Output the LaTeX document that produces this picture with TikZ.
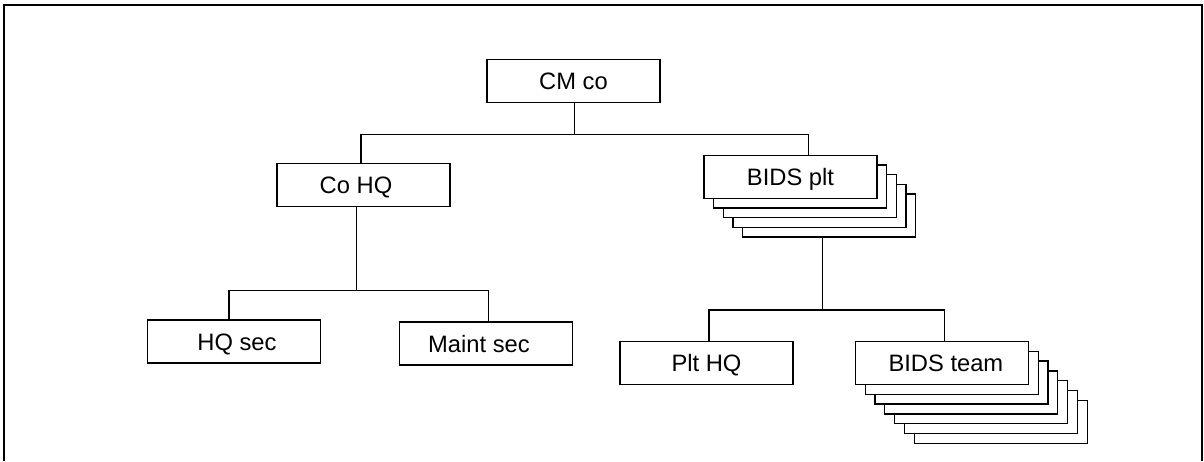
\documentclass[tikz,border=0pt]{standalone}
\usepackage{fontspec}
\setmainfont{Liberation Sans}
\begin{document}
\begin{tikzpicture}[x=0.75pt,y=-0.75pt,
  box/.style={draw,line width=1pt,fill=white,minimum width=129.75pt,minimum height=32.25pt,
    inner sep=0pt,font=\fontsize{17.8}{20}\selectfont,text height=12.75pt,text depth=0pt},
  conn/.style={line width=1pt},
  frame/.style={line width=1.7pt}]
\useasboundingbox (0,0) rectangle (1204,461);
% outer frame
\draw[frame] (4,461) -- (4,5) -- (1202.3,5) -- (1202.3,461);

% nodes
\node[box] (CMco) at (573.5,80.7) {CM co};
\node[box] (CoHQ) at (363.5,184.7) {Co HQ\hspace*{11.25pt}};
\foreach \k in {4,3,2,1}
  \node[box] (BIDSplt\k) at (790.5+9.7*\k,176.7+9.7*\k) {};
\node[box] (BIDSplt) at (790.5,176.7) {BIDS plt};
\node[box] (HQsec) at (234,341.5) {\hspace*{4.5pt}HQ sec};
\node[box] (Maintsec) at (485.9,343.5) {Maint sec\hspace*{10.35pt}};
\node[box] (PltHQ) at (706.5,362.7) {Plt HQ};
\foreach \k in {6,5,4,3,2,1}
  \node[box] (BIDSteam\k) at (941.9+9.8*\k,363+9.8*\k) {};
\node[box] (BIDSteam) at (941.9,363) {\hspace*{6pt}BIDS team};

% junction coordinates
\coordinate (b0) at (574.3,134.3);
\coordinate (b1) at (361,134.3);
\coordinate (b2) at (808.3,134.3);
\coordinate (a2) at (356.7,290.3);
\coordinate (a3) at (229,290.3);
\coordinate (a4) at (488.3,290.3);
\coordinate (c2) at (822.3,310);
\coordinate (c3) at (709,310);
\coordinate (c4) at (944.7,310);

% connectors
\draw[conn] (b0 |- CMco.south) -- (b0);
\draw[conn] (b1 |- CoHQ.north) -- (b1) -- (b2) -- (b2 |- BIDSplt.north);
\draw[conn] (a2 |- CoHQ.south) -- (a2);
\draw[conn] (a3 |- HQsec.north) -- (a3) -- (a4) -- (a4 |- Maintsec.north);
\draw[conn] (c2 |- BIDSplt4.south) -- (c2);
\draw[conn] (c3 |- PltHQ.north) -- (c3) -- (c4) -- (c4 |- BIDSteam.north);
\end{tikzpicture}
\end{document}
